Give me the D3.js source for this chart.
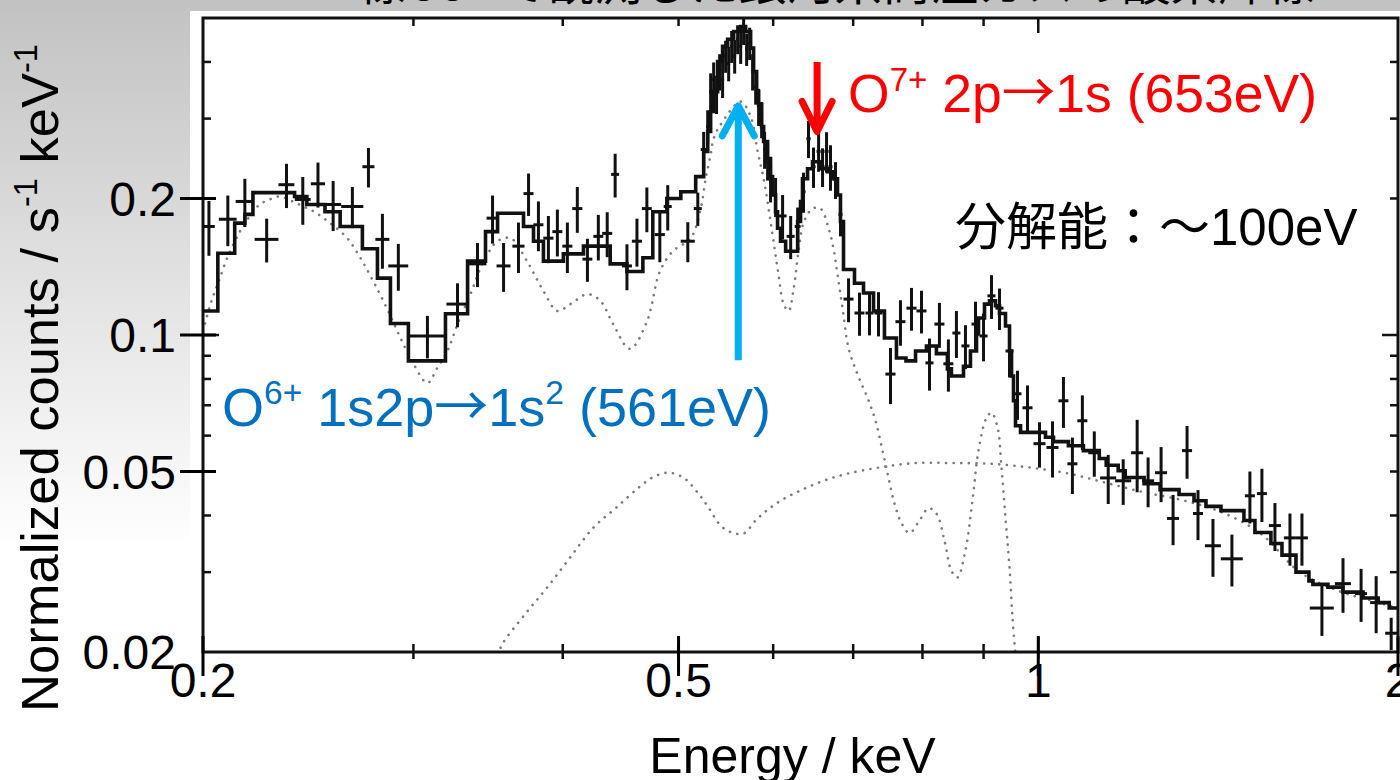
<!DOCTYPE html>
<html>
<head>
<meta charset="utf-8">
<script src="https://cdn.jsdelivr.net/npm/d3@7"></script>
<style>
  html, body { margin: 0; padding: 0; background: #fff; }
  svg { display: block; }
</style>
</head>
<body>
<svg id="chart" width="1400" height="780"></svg>
<script>
// ---- Observed spectrum: bin centre (keV), half bin width, counts, 1-sigma error ----
const dataE = [0.2023,0.2098,0.2168,0.2261,0.2349,0.2424,0.2496,0.2570,0.2667,0.2751,0.2826,0.2914,0.3082,0.3266,0.3394,0.3494,0.3569,0.3673,0.3745,0.3817,0.3891,0.3959,0.4036,0.4114,0.4195,0.4284,0.4358,0.4425,0.4527,0.4615,0.4704,0.4823,0.4897,0.5090,0.5189,0.5248,
  0.5289,0.5319,0.5350,0.5380,0.5412,0.5443,0.5475,0.5507,0.5539,0.5571,0.5603,0.5636,0.5668,0.5701,0.5734,0.5767,0.5801,0.5834,0.5868,0.5902,0.5936,0.5970,0.6028,
  0.6110,0.6206,0.6290,0.6361,0.6423,0.6485,0.6549,0.6599,0.6650,0.6701,0.6766,0.6831,
  0.6938,0.7086,0.7224,0.7350,0.7522,0.7668,0.7833,0.7985,0.8109,0.8266,0.8410,0.8541,0.8691,0.8861,0.8999,0.9138,0.9280,0.9461,0.9608,0.9795,1.0024,1.0278,1.0497,1.0680,1.0887,1.1140,1.1443,1.1778,1.2099,1.2357,1.2670,1.2966,1.3320,1.3604,1.4002,1.4523,1.5035,1.5387,1.5778,1.6241,1.6621,1.7273,1.7989,1.8627,1.9176,1.9739];
const dataDE = [0.0023,0.0036,0.0038,0.0052,0.0036,0.0037,0.0034,0.0040,0.0057,0.0032,0.0038,0.0056,0.0107,0.0069,0.0059,0.0040,0.0048,0.0043,0.0036,0.0037,0.0038,0.0038,0.0039,0.0040,0.0040,0.0041,0.0042,0.0034,0.0044,0.0045,0.0045,0.0047,0.0038,0.0069,0.0040,0.0030,
  0.0016,0.0016,0.0016,0.0016,0.0016,0.0016,0.0016,0.0016,0.0016,0.0016,0.0016,0.0016,0.0016,0.0016,0.0016,0.0016,0.0016,0.0016,0.0016,0.0016,0.0016,0.0016,0.0016,
  0.0047,0.0048,0.0036,0.0025,0.0026,0.0026,0.0026,0.0026,0.0026,0.0026,0.0026,0.0026,
  0.0067,0.0068,0.0056,0.0057,0.0073,0.0074,0.0076,0.0077,0.0063,0.0080,0.0081,0.0066,0.0067,0.0068,0.0069,0.0071,0.0072,0.0073,0.0074,0.0095,0.0116,0.0119,0.0101,0.0103,0.0105,0.0129,0.0177,0.0182,0.0140,0.0143,0.0147,0.0150,0.0129,0.0131,0.0216,0.0308,0.0145,0.0148,0.0183,0.0188,0.0192,0.0400,0.0278,0.0216,0.0222,0.0229];
const dataF = [0.1735,0.180,0.197,0.1625,0.2145,0.199,0.2155,0.194,0.192,0.235,0.1625,0.142,0.0995,0.117,0.1435,0.181,0.142,0.157,0.205,0.175,0.1635,0.169,0.157,0.190,0.147,0.165,0.1675,0.226,0.142,0.161,0.190,0.1665,0.192,0.161,0.190,0.2565,
  0.288,0.344,0.366,0.340,0.381,0.366,0.412,0.397,0.433,0.412,0.449,0.433,0.467,0.427,0.440,0.381,0.353,0.319,0.299,0.2565,0.241,0.218,0.202,
  0.183,0.165,0.1735,0.207,0.271,0.235,0.254,0.235,0.254,0.235,0.220,0.1845,
  0.120,0.1118,0.1118,0.1118,0.082,0.107,0.1146,0.113,0.0868,0.1057,0.0864,0.101,0.0946,0.1057,0.0995,0.122,0.1146,0.0922,0.0742,0.0691,0.0576,0.0565,0.0716,0.0520,0.0647,0.055,0.0484,0.0477,0.055,0.0477,0.0497,0.0394,0.0556,0.0404,0.0343,0.0321,0.0442,0.0447,0.0380,0.0357,0.0357,0.0250,0.0283,0.0269,0.0257,0.022];
const dataDF = [0.024,0.023,0.024,0.018,0.024,0.024,0.0245,0.0245,0.020,0.0235,0.0225,0.0168,0.0107,0.013,0.016,0.022,0.0175,0.020,0.022,0.022,0.0195,0.020,0.020,0.022,0.016,0.019,0.019,0.025,0.0165,0.0195,0.0215,0.0218,0.022,0.0163,0.016,0.024,
  0.025,0.0335,0.033,0.033,0.035,0.033,0.0335,0.0345,0.035,0.035,0.033,0.037,0.031,0.035,0.036,0.035,0.031,0.030,0.0275,0.024,0.022,0.022,0.020,
  0.0205,0.018,0.0175,0.021,0.0255,0.024,0.025,0.023,0.026,0.027,0.0205,0.0195,
  0.0133,0.0122,0.012,0.0125,0.0116,0.0123,0.0124,0.0122,0.0114,0.012,0.0114,0.012,0.0105,0.0127,0.012,0.0135,0.012,0.0116,0.0092,0.0083,0.0066,0.008,0.0092,0.0074,0.0089,0.0063,0.006,0.0055,0.010,0.006,0.0069,0.005,0.0074,0.0051,0.005,0.0042,0.0058,0.006,0.0046,0.0047,0.0047,0.0033,0.0039,0.0036,0.0037,0.0018];

// ---- Folded best-fit model: lower bin edge (keV) and level ----
const modelE = [0.2000,0.2058,0.2126,0.2168,0.2202,0.2386,0.2443,0.2530,0.2605,0.2719,0.2799,0.2870,0.2971,0.3191,0.3330,0.3447,0.3528,0.3709,0.3781,0.3854,0.4005,0.4163,0.4383,0.4527,0.4668,0.4758,0.4888,0.5022,0.5168,0.5248,0.5289,0.5319,0.5350,0.5391,0.5443,0.5496,0.5560,0.5636,0.5690,0.5745,0.5778,0.5812,0.5834,0.5868,0.5891,0.5936,0.5970,0.5993,0.6028,0.6051,0.6086,0.6146,0.6290,0.6325,0.6349,0.6411,0.6473,0.6574,0.6663,0.6727,0.6792,0.6831,0.6871,0.7018,0.7141,0.7280,0.7435,0.7609,0.7750,0.7894,0.8062,0.8218,0.8394,0.8459,0.8658,0.8775,0.8878,0.8912,0.9016,0.9103,0.9209,0.9280,0.9388,0.9461,0.9498,0.9534,0.9571,0.9664,1.0140,1.0298,1.0598,1.0908,1.1247,1.1399,1.1665,1.1823,1.2262,1.2646,1.3116,1.3500,1.3815,1.4219,1.4863,1.5181,1.5656,1.5993,1.6430,1.6846,1.6976,1.7474,1.7989,1.8699,1.9250,1.9663];
const modelF = [0.113,0.1515,0.1765,0.1845,0.206,0.202,0.194,0.187,0.1735,0.155,0.1335,0.106,0.0877,0.1114,0.1455,0.169,0.1855,0.1735,0.161,0.1455,0.151,0.157,0.1435,0.138,0.148,0.187,0.200,0.207,0.2235,0.254,0.281,0.311,0.344,0.401,0.433,0.449,0.467,0.479,0.467,0.429,0.381,0.344,0.322,0.288,0.267,0.245,0.2235,0.2035,0.187,0.172,0.161,0.153,0.178,0.197,0.221,0.2325,0.241,0.2325,0.229,0.221,0.2035,0.178,0.1395,0.130,0.1238,0.113,0.0985,0.089,0.0877,0.0922,0.0946,0.091,0.0842,0.0812,0.0853,0.0922,0.1005,0.109,0.117,0.119,0.116,0.1115,0.1047,0.0922,0.0812,0.0716,0.0631,0.061,0.0595,0.0582,0.057,0.0556,0.0534,0.0516,0.0502,0.0485,0.047,0.0456,0.0445,0.0431,0.0419,0.041,0.039,0.0367,0.0347,0.0327,0.030,0.0287,0.0282,0.0278,0.0271,0.0263,0.0257,0.025];
const modelEnd = 2.0;

// ---- Model components (dotted) ----
const thermalE = [0.2008,0.2027,0.2047,0.2066,0.2098,0.2147,0.2189,0.2231,0.2274,0.2318,0.2396,0.2477,0.2555,0.2641,0.2708,0.2776,0.2850,0.2926,0.3000,0.3082,0.3141,0.3203,0.3266,0.3349,0.3435,0.3528,0.3617,0.3734,0.3854,0.3959,0.4060,0.4195,0.4300,0.4408,0.4553,0.4704,0.4823,0.4945,0.5119,0.5218,0.5268,0.5319,0.5350,0.5422,0.5636,0.5745,0.5823,0.5891,0.5947,0.6004,0.6062,0.6122,0.6182,0.6243,0.6305,0.6368,0.6473,0.6574,0.6676,0.6740,0.6792,0.6858,0.6938,0.7058,0.7196,0.7308,0.7407,0.7494,0.7580,0.7683,0.7802,0.7955,0.8094,0.8218,0.8346,0.8459,0.8557,0.8691,0.8809,0.8912,0.9051,0.9138,0.9244,0.9316,0.9388,0.9461,0.9516,0.9571];
const thermalF = [0.106,0.116,0.125,0.1335,0.149,0.169,0.183,0.194,0.199,0.202,0.195,0.187,0.1765,0.1635,0.148,0.1315,0.1146,0.0985,0.0864,0.0784,0.0846,0.0922,0.1057,0.1232,0.1455,0.161,0.1635,0.1455,0.125,0.113,0.117,0.123,0.119,0.1057,0.0932,0.107,0.138,0.153,0.1635,0.190,0.221,0.250,0.271,0.291,0.327,0.3035,0.254,0.221,0.190,0.161,0.136,0.117,0.113,0.127,0.155,0.178,0.190,0.190,0.172,0.155,0.136,0.1146,0.0936,0.082,0.0727,0.0647,0.0556,0.0484,0.0425,0.0385,0.0366,0.039,0.0415,0.0404,0.0352,0.0302,0.0292,0.0335,0.0431,0.0556,0.0657,0.0674,0.0627,0.051,0.0396,0.0307,0.0238,0.0197];
const powerE = [0.3535,0.3556,0.3723,0.3884,0.4060,0.4243,0.4433,0.4631,0.4767,0.4905,0.5046,0.5189,0.5299,0.5422,0.5539,0.5668,0.5801,0.5925,0.6086,0.6325,0.6611,0.6911,0.7350,0.7894,0.8476,0.9138,0.9852,1.0598,1.1399,1.2262,1.3218,1.4193,1.5328,1.6557,1.7883,1.8965,2.0];
const powerF = [0.0197,0.0207,0.0243,0.0278,0.0324,0.0376,0.0416,0.0461,0.0487,0.0497,0.0485,0.0449,0.0416,0.0380,0.0367,0.0365,0.039,0.041,0.0431,0.0454,0.0477,0.0494,0.051,0.0522,0.0522,0.052,0.051,0.0495,0.0472,0.0450,0.0432,0.0408,0.0366,0.0300,0.0272,0.0260,0.0250];

// ---- Axes ----
const xLabelTicks = [0.2, 0.5, 1, 2];
const yLabelTicks = [0.02, 0.05, 0.1, 0.2];
const xMinorTicks = [0.3, 0.4, 0.5, 0.6, 0.7, 0.8, 0.9];
const xMajorTicks = [1];
const yMinorTicks = [0.03, 0.04, 0.05, 0.06, 0.07, 0.08, 0.09, 0.2, 0.3, 0.4];
const yMajorTicks = [0.1];

// ---- Line identifications ----
const o6Energy = 0.561;   // keV
const o7Energy = 0.653;   // keV
const o6ArrowSpan = [0.088, 0.32];
const o7ArrowSpan = [0.40, 0.281];

const W = 1400, H = 780;
const plot = { left: 203, right: 1398, top: 18, bottom: 652 };
const latin = "'Liberation Sans', Arial, 'Noto Sans CJK JP', sans-serif";
const cjk = "'Noto Sans CJK JP', sans-serif";

const x = d3.scaleLog().domain([0.2, 2]).range([plot.left, plot.right]);
const y = d3.scaleLog().domain([0.02, 0.5]).range([plot.bottom, plot.top]);

const svg = d3.select('#chart');
const defs = svg.append('defs');

const bg = defs.append('linearGradient').attr('id', 'bg').attr('x1', 0).attr('y1', 0).attr('x2', 0).attr('y2', 1);
bg.append('stop').attr('offset', '0%').attr('stop-color', '#c2c2c2');
bg.append('stop').attr('offset', '70%').attr('stop-color', '#ffffff');
bg.append('stop').attr('offset', '100%').attr('stop-color', '#ffffff');

defs.append('clipPath').attr('id', 'plotClip')
  .append('rect')
  .attr('x', plot.left).attr('y', plot.top)
  .attr('width', plot.right - plot.left).attr('height', plot.bottom - plot.top);

// slide background, slide heading (runs off the top edge) and figure panel
svg.append('rect').attr('width', W).attr('height', H).attr('fill', 'url(#bg)');
svg.append('rect').attr('x', 0).attr('y', 0).attr('width', W).attr('height', 11).attr('fill', '#c2c2c2');
svg.append('text')
  .attr('x', 330).attr('y', 0)
  .attr('font-family', cjk)
  .attr('font-size', 48).attr('fill', '#000')
  .text('X線CCDで観測した銀河系高温ガスの酸素輝線');
svg.append('rect').attr('x', 190).attr('y', 11).attr('width', W - 190).attr('height', 700).attr('fill', '#fff');

const g = svg.append('g');
const clipped = g.append('g').attr('clip-path', 'url(#plotClip)');

// dotted model components
const smooth = d3.line().x(d => x(d[0])).y(d => y(d[1])).curve(d3.curveCatmullRom.alpha(0.5));
[[powerE, powerF], [thermalE, thermalF]].forEach(([es, fs]) => {
  clipped.append('path')
    .attr('d', smooth(es.map((e, i) => [e, fs[i]])))
    .attr('fill', 'none')
    .attr('stroke', '#7a7a7a')
    .attr('stroke-width', 2.6)
    .attr('stroke-linecap', 'round')
    .attr('stroke-dasharray', '0.1 7.5');
});

// folded model as a histogram
const stepPts = modelE.map((e, i) => [e, modelF[i]]);
stepPts.push([modelEnd, modelF[modelF.length - 1]]);
const step = d3.line().x(d => x(d[0])).y(d => y(d[1])).curve(d3.curveStepAfter);
clipped.append('path')
  .attr('d', step(stepPts))
  .attr('fill', 'none')
  .attr('stroke', '#111')
  .attr('stroke-width', 3.6)
  .attr('stroke-linejoin', 'miter');

// data crosses
const pts = dataE.map((e, i) => ({ e, de: dataDE[i], f: dataF[i], df: dataDF[i] }));
const cross = clipped.append('g').attr('stroke', '#111').attr('stroke-width', 3);
cross.selectAll('line.h').data(pts).join('line').attr('class', 'h')
  .attr('x1', d => x(d.e - d.de)).attr('x2', d => x(d.e + d.de))
  .attr('y1', d => y(d.f)).attr('y2', d => y(d.f));
cross.selectAll('line.v').data(pts).join('line').attr('class', 'v')
  .attr('x1', d => x(d.e)).attr('x2', d => x(d.e))
  .attr('y1', d => y(d.f + d.df)).attr('y2', d => y(Math.max(d.f - d.df, 0.001)));

// frame
g.append('rect')
  .attr('x', plot.left).attr('y', plot.top)
  .attr('width', plot.right - plot.left).attr('height', plot.bottom - plot.top)
  .attr('fill', 'none').attr('stroke', '#111').attr('stroke-width', 3);

// inner ticks on all four sides
const tickG = g.append('g').attr('stroke', '#111').attr('stroke-width', 2.5);
const xTicks = xMinorTicks.map(v => [v, 8]).concat(xMajorTicks.map(v => [v, 15]));
const yTicks = yMinorTicks.map(v => [v, 8]).concat(yMajorTicks.map(v => [v, 16]));
xTicks.forEach(([v, len]) => {
  tickG.append('line').attr('x1', x(v)).attr('x2', x(v)).attr('y1', plot.top).attr('y2', plot.top + len);
  tickG.append('line').attr('x1', x(v)).attr('x2', x(v)).attr('y1', plot.bottom - len).attr('y2', plot.bottom + 7);
});
yTicks.forEach(([v, len]) => {
  tickG.append('line').attr('x1', plot.left).attr('x2', plot.left + len).attr('y1', y(v)).attr('y2', y(v));
  tickG.append('line').attr('x1', plot.right - len).attr('x2', plot.right).attr('y1', y(v)).attr('y2', y(v));
});

// labelled ticks
const labG = g.append('g').attr('stroke', '#000').attr('stroke-width', 3);
xLabelTicks.forEach(v => {
  labG.append('line').attr('x1', x(v)).attr('x2', x(v)).attr('y1', plot.bottom - 16).attr('y2', plot.bottom + 24);
});
yLabelTicks.filter(v => v > 0.02).forEach(v => {
  labG.append('line').attr('x1', 180).attr('x2', plot.left + 13).attr('y1', y(v)).attr('y2', y(v));
});

g.selectAll('text.xl').data(xLabelTicks).join('text').attr('class', 'xl')
  .attr('x', d => x(d)).attr('y', 697)
  .attr('text-anchor', 'middle')
  .attr('font-family', latin).attr('font-size', 48).attr('fill', '#000')
  .text(d => d3.format('~g')(d));
g.selectAll('text.yl').data(yLabelTicks).join('text').attr('class', 'yl')
  .attr('x', 176).attr('y', d => y(d))
  .attr('dy', '0.36em')
  .attr('text-anchor', 'end')
  .attr('font-family', latin).attr('font-size', 48).attr('fill', '#000')
  .text(d => d3.format('~g')(d));

// rich text helper (superscripts, CJK arrow glyph)
function rich(sel, parts, fs) {
  let shifted = false;
  parts.forEach(p => {
    const t = sel.append('tspan').text(p.t);
    if (p.font) t.attr('font-family', p.font);
    if (p.sup) {
      t.attr('font-size', fs * 0.62);
      if (!shifted) { t.attr('dy', -fs * 0.4); shifted = true; }
    } else if (shifted) {
      t.attr('dy', fs * 0.4); shifted = false;
    }
  });
}

// axis titles
g.append('text')
  .attr('x', (plot.left + plot.right) / 2 - 8).attr('y', 773)
  .attr('text-anchor', 'middle')
  .attr('font-family', latin).attr('font-size', 50).attr('fill', '#000')
  .text('Energy / keV');

const yTitle = g.append('text')
  .attr('transform', 'translate(58,378) rotate(-90)')
  .attr('text-anchor', 'middle')
  .attr('font-family', latin).attr('font-size', 52.5).attr('fill', '#000');
rich(yTitle, [{ t: 'Normalized counts / s' }, { t: '-1', sup: true }, { t: ' keV' }, { t: '-1', sup: true }], 52.5);

// line annotations
const o6x = x(o6Energy), o7x = x(o7Energy);
const ann = g.append('g').attr('fill', 'none').attr('stroke-linecap', 'round').attr('stroke-linejoin', 'round');
ann.append('line')
  .attr('x1', o6x).attr('x2', o6x)
  .attr('y1', y(o6ArrowSpan[0])).attr('y2', y(o6ArrowSpan[1]) + 3)
  .attr('stroke', '#00b0f0').attr('stroke-width', 7).attr('stroke-linecap', 'butt');
ann.append('polyline')
  .attr('points', `${o6x - 16},${y(o6ArrowSpan[1]) + 30} ${o6x},${y(o6ArrowSpan[1])} ${o6x + 16},${y(o6ArrowSpan[1]) + 30}`)
  .attr('stroke', '#00b0f0').attr('stroke-width', 7);
ann.append('line')
  .attr('x1', o7x).attr('x2', o7x)
  .attr('y1', y(o7ArrowSpan[0])).attr('y2', y(o7ArrowSpan[1]) - 3)
  .attr('stroke', '#ff0000').attr('stroke-width', 7).attr('stroke-linecap', 'butt');
ann.append('polyline')
  .attr('points', `${o7x - 15},${y(o7ArrowSpan[1]) - 30} ${o7x},${y(o7ArrowSpan[1])} ${o7x + 15},${y(o7ArrowSpan[1]) - 30}`)
  .attr('stroke', '#ff0000').attr('stroke-width', 7);

const redLab = g.append('text')
  .attr('x', 848).attr('y', 112)
  .attr('font-family', latin).attr('font-size', 53.5).attr('fill', '#ff0000');
rich(redLab, [{ t: 'O' }, { t: '7+', sup: true }, { t: ' 2p' }, { t: '→', font: cjk }, { t: '1s (653eV)' }], 53.5);

const blueLab = g.append('text')
  .attr('x', 222).attr('y', 426)
  .attr('font-family', latin).attr('font-size', 54).attr('fill', '#0070c0');
rich(blueLab, [{ t: 'O' }, { t: '6+', sup: true }, { t: ' 1s2p' }, { t: '→', font: cjk }, { t: '1s' }, { t: '2', sup: true }, { t: ' (561eV)' }], 54);

g.append('text')
  .attr('x', 955).attr('y', 245)
  .attr('font-family', latin).attr('font-size', 51).attr('fill', '#000')
  .text('分解能：～100eV');
</script>
</body>
</html>
